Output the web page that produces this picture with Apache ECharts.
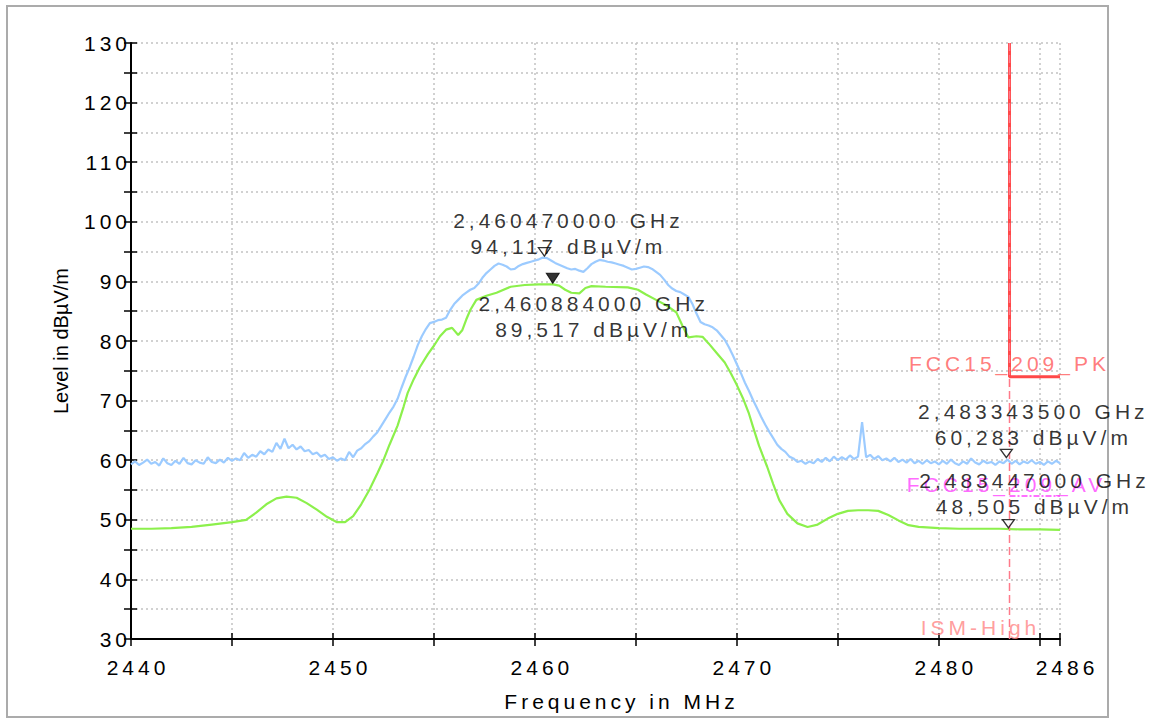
<!DOCTYPE html>
<html><head><meta charset="utf-8">
<script src="https://cdn.jsdelivr.net/npm/echarts@6/dist/echarts.min.js"></script>
<style>
html,body{margin:0;padding:0;background:#fff;}
#chart{width:1160px;height:720px;}
#chart text{letter-spacing:4px;}
#chart text[style*="20px"]{letter-spacing:0;}
</style></head><body><div id="chart"></div>
<script>
// ---------- data ----------
const peakStartMHz = 2440;
const peakStepMHz = 0.2;
const peakLevel = [
59.3,59.8,59.2,59.6,60.1, 59.4,59.7,59.1,60.3,59.5, 59.2,59.9,59.4,60.4,59.5, 59.3,60.0,59.6,59.4,60.5,
59.7,59.5,60.1,59.6,60.4, 59.9,60.3,60.0,61.2,60.4, 60.9,60.6,61.5,61.0,61.8, 61.4,62.9,61.9,63.6,62.0,
62.6,61.8,62.3,61.5,61.7, 61.0,61.3,60.6,60.9,60.2, 60.5,59.9,60.3,60.0,61.4, 60.5,61.6,62.0,62.7,63.2,
64.0,64.7,65.8,66.9,68.0, 69.0,70.3,72.2,74.0,75.6, 77.4,79.3,80.8,82.0,83.0, 83.2,83.5,83.6,83.9,85.2,
86.2,86.9,87.6,88.1,88.6, 88.9,89.6,90.6,91.4,92.0, 92.6,93.0,92.8,92.5,92.0, 92.1,92.6,92.9,93.1,93.3,
93.5,93.7,94.0,93.9,93.5, 93.1,92.8,92.5,92.2,92.0, 92.1,91.8,91.6,92.2,92.9, 93.3,93.6,93.5,93.3,93.2,
93.0,92.8,92.6,92.3,92.0, 92.1,92.3,92.5,92.4,92.1, 91.6,91.1,90.3,89.4,88.8, 88.4,88.2,87.8,87.4,86.2,
84.6,83.2,82.8,82.6,82.3, 81.8,81.0,80.2,79.0,77.6, 76.1,74.6,73.0,71.6,70.1, 68.7,67.3,66.0,64.8,63.7,
62.6,61.9,61.4,60.6,60.3, 59.7,59.9,59.4,59.8,59.5, 60.2,59.7,60.4,59.8,60.6, 60.0,60.5,60.1,60.8,60.2,
60.6,66.4,60.5,60.9,60.2, 60.7,60.0,60.3,59.8,60.4, 59.7,60.1,59.6,60.2,59.5, 59.9,59.4,60.0,59.5,59.8,
59.3,59.9,59.4,60.1,59.5, 59.2,59.8,59.4,60.3,59.6, 59.3,59.9,59.5,59.7,59.2, 59.8,59.5,60.1,59.4,59.9,
59.3,59.8,59.5,60.0,59.4, 59.7,59.2,59.8,59.4,59.9, 59.5
];
const avgFreq = [2440,2441,2442,2443,2444,2445,2445.7,2446.2,2446.7,2447.2,2447.7,2448.2,2448.7,2449.2,2449.7,2450.2,
2450.6,2451.0,2451.4,2451.8,2452.2,2452.5,2452.8,2453.2,2453.5,2453.7,2454.0,2454.3,2454.7,2455.0,2455.3,2455.6,2455.9,
2456.2,2456.4,2456.6,2456.8,2457.1,2457.6,2458.1,2458.8,2459.5,2460.2,2460.9,2461.2,2461.5,2461.8,2462.2,2462.5,2462.8,
2463.5,2464.6,2465.1,2465.5,2466.0,2466.5,2467.0,2467.3,2467.6,2468.0,2468.3,2468.6,2469.0,2469.4,2469.7,2470.0,2470.3,
2470.6,2470.8,2471.1,2471.5,2471.8,2472.1,2472.5,2473.0,2473.5,2474.0,2474.5,2475.0,2475.5,2476.0,2476.5,2477.0,2477.5,
2478.0,2478.5,2479.0,2480.0,2481.0,2482.0,2483.0,2484.0,2485.0,2486.0];
const avgLevel = [48.5,48.5,48.6,48.8,49.2,49.6,50.0,51.2,52.6,53.6,53.9,53.7,52.8,51.7,50.5,49.6,
49.6,50.6,52.6,55.0,57.8,60.0,62.6,65.8,69.0,71.3,73.6,75.6,77.8,79.2,80.8,81.9,82.2,
81.0,81.8,83.6,85.2,86.9,87.6,88.1,89.1,89.4,89.5,89.5,89.3,88.6,88.1,88.0,88.9,89.2,
89.1,89.0,88.6,87.8,86.9,86.0,84.8,82.6,80.6,80.8,80.7,79.6,78.0,76.4,74.6,72.6,70.4,
67.8,65.6,62.4,58.9,56.0,53.3,51.0,49.4,48.8,49.2,50.2,51.0,51.5,51.6,51.6,51.5,50.8,
49.9,49.1,48.8,48.6,48.5,48.5,48.5,48.4,48.4,48.3];

const xTickLabels = [2440, 2450, 2460, 2470, 2480, 2486];
const yTickLabels = [30, 40, 50, 60, 70, 80, 90, 100, 110, 120, 130];

const pkLimitFreq = [2483.5, 2483.5, 2486];
const pkLimitLevel = [130, 74, 74];
const avLimitFreq = [2483.5, 2486];
const avLimitLevel = [54, 54];
const ismFreq = [2483.5, 2483.5];
const ismLevel = [30, 130];
const limitNames = ['FCC15_209_PK', 'FCC15_209_AV', 'ISM-High'];
const limitNameFreq = [2483.5, 2483.5, 2483.5];
const limitNameLevel = [74, 54, 30];

const markerFreqMHz = [2460.470, 2460.884, 2483.3435, 2483.447];
const markerLevel = [94.117, 89.517, 60.283, 48.505];
const markerFilled = [false, true, false, false];

// ---------- chart ----------
const FONT = "'Liberation Sans', Arial, Helvetica, sans-serif";
const peakData = peakLevel.map((v, i) => [+(peakStartMHz + i * peakStepMHz).toFixed(1), v]);
const avgData = avgFreq.map((f, i) => [f, avgLevel[i]]);
const zip = (a, b) => a.map((x, i) => [x, b[i]]);
const fmtComma = (v, d) => v.toFixed(d).replace('.', ',');
const markerText = markerFreqMHz.map((f, i) => fmtComma(f / 1000, 9) + ' GHz\n' + fmtComma(markerLevel[i], 3) + ' dBµV/m');
const markerLabelOffset = [[24, -23], [41, 32], [27, -34], [26, -35]];
const limitLabelStyle = [
  {color: '#ff5a5a', offset: [0, -13]},
  {color: '#ff44ff', offset: [-3, -11]},
  {color: '#ff8585', offset: [-29, -12]}
];
const triPath = 'path://M0,0 L12,0 L6,10 Z';

const gridLine = {show: true, lineStyle: {color: '#c2c2c2', width: 1.5, type: [2, 3]}};
const axisText = {fontFamily: FONT, fontSize: 21, color: '#000'};

const option = {
  animation: false,
  backgroundColor: '#fff',
  grid: {left: 131, top: 43, right: 100, bottom: 81},
  graphic: [{type: 'rect', silent: true, z: -10,
    shape: {x: 7, y: 6, width: 1101, height: 711},
    style: {fill: 'none', stroke: '#ababab', lineWidth: 2}}],
  xAxis: [
    {type: 'value', min: 2440, max: 2486, interval: 5, position: 'bottom',
     axisLine: {show: true, lineStyle: {color: '#000', width: 2}},
     axisTick: {show: true, length: 7, lineStyle: {color: '#000', width: 1.5}},
     axisLabel: Object.assign({margin: 18, padding: [0, 0, 0, 14],
       formatter: v => xTickLabels.includes(v) ? String(v) : ''}, axisText),
     splitLine: gridLine,
     name: 'Frequency in MHz', nameLocation: 'middle', nameGap: 52,
     nameTextStyle: Object.assign({padding: [0, 0, 0, 52]}, axisText)},
    {type: 'value', min: 2440, max: 2486, interval: 5, position: 'bottom',
     axisLine: {show: false}, axisLabel: {show: false}, splitLine: {show: false},
     axisTick: {show: true, inside: true, length: 6, lineStyle: {color: '#000', width: 1.5}}}
  ],
  yAxis: [
    {type: 'value', min: 30, max: 130, interval: 5, position: 'left',
     axisLine: {show: true, lineStyle: {color: '#000', width: 2}},
     axisTick: {show: true, length: 7, lineStyle: {color: '#000', width: 1.5}},
     axisLabel: Object.assign({margin: 0,
       formatter: v => yTickLabels.includes(v) ? String(v) : ''}, axisText),
     splitLine: gridLine,
     name: 'Level in dBµV/m', nameLocation: 'middle', nameGap: 60,
     nameTextStyle: {fontFamily: FONT, fontSize: 20, color: '#000'}},
    {type: 'value', min: 30, max: 130, interval: 5, position: 'left',
     axisLine: {show: false}, axisLabel: {show: false}, splitLine: {show: false},
     axisTick: {show: true, inside: true, length: 6, lineStyle: {color: '#000', width: 1.5}}}
  ],
  series: [
    {type: 'line', name: 'AV', data: avgData, showSymbol: false, symbol: 'none', silent: true,
     lineStyle: {color: '#8cf04c', width: 2.2}, z: 2},
    {type: 'line', name: 'PK', data: peakData, showSymbol: false, symbol: 'none', silent: true,
     lineStyle: {color: '#9ccbff', width: 2.2}, z: 3},
    {type: 'line', name: 'PKlim', data: zip(pkLimitFreq, pkLimitLevel), showSymbol: false, symbol: 'none', silent: true,
     lineStyle: {color: '#ff4848', width: 3}, z: 4},
    {type: 'line', name: 'AVlim', data: zip(avLimitFreq, avLimitLevel), showSymbol: false, symbol: 'none', silent: true,
     lineStyle: {color: '#ff44ff', width: 1.5, type: [6, 2, 2, 2]}, z: 5},
    {type: 'line', name: 'ISM', data: zip(ismFreq, ismLevel), showSymbol: false, symbol: 'none', silent: true,
     lineStyle: {color: '#ff7a8a', width: 1.5, type: [8, 4]}, z: 6},
    {type: 'scatter', name: 'limitNames', silent: true, symbolSize: 0, z: 7,
     data: limitNames.map((n, i) => ({value: [limitNameFreq[i], limitNameLevel[i]],
       label: {show: true, position: 'inside', formatter: n, fontFamily: FONT, fontSize: 21,
               color: limitLabelStyle[i].color, offset: limitLabelStyle[i].offset}}))},
    {type: 'scatter', name: 'markers', silent: true, z: 8,
     symbol: triPath, symbolKeepAspect: true,
     data: markerFreqMHz.map((f, i) => ({value: [f, markerLevel[i]],
       symbolSize: markerFilled[i] ? [13, 12] : [12, 10],
       symbolOffset: [0, markerFilled[i] ? -6 : -5],
       itemStyle: markerFilled[i] ? {color: '#000', borderColor: '#000', borderWidth: 1}
                                  : {color: '#fff', borderColor: '#000', borderWidth: 1.3}}))},
    {type: 'scatter', name: 'markerText', silent: true, symbolSize: 0, z: 9,
     data: markerFreqMHz.map((f, i) => ({value: [f, markerLevel[i]],
       label: {show: true, position: 'inside', formatter: markerText[i], fontFamily: FONT,
               fontSize: 21, lineHeight: 26, color: '#000', align: 'center',
               offset: markerLabelOffset[i]}}))}
  ]
};

const chart = echarts.init(document.getElementById('chart'), null, {renderer: 'svg', width: 1160, height: 720});
chart.setOption(option);
function fixYName() {
  document.querySelectorAll('#chart text').forEach(t => {
    if (t.textContent.indexOf('Level in') === 0) t.style.letterSpacing = '0px';
  });
}
chart.on('finished', fixYName);
fixYName();
setTimeout(fixYName, 50);
</script></body></html>
